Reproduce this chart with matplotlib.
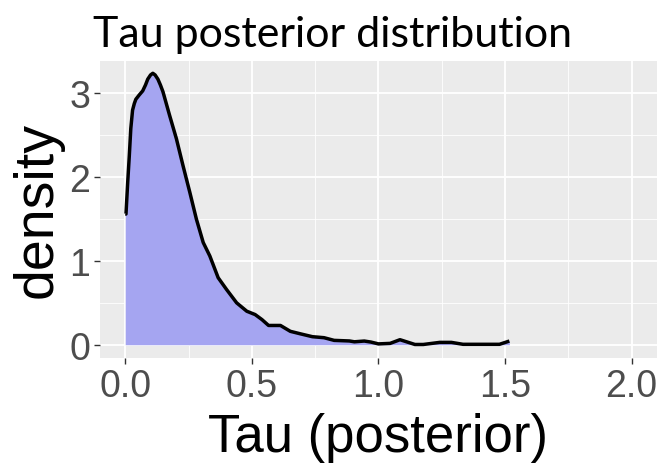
import matplotlib
matplotlib.use("Agg")
import matplotlib.pyplot as plt
import numpy as np

# density curve (tau, density)
tau = [0.0, 0.003, 0.010, 0.016, 0.022, 0.029, 0.036, 0.042, 0.055, 0.069,
       0.080, 0.089, 0.100, 0.109, 0.118, 0.129, 0.139, 0.149,
       0.175, 0.202, 0.228, 0.255, 0.281, 0.308, 0.334, 0.367, 0.40, 0.44,
       0.48, 0.513, 0.54, 0.566, 0.613, 0.652, 0.692, 0.739, 0.785, 0.825,
       0.885, 0.905, 0.944, 0.97, 1.0, 1.046, 1.085, 1.144, 1.177, 1.242,
       1.288, 1.334, 1.478, 1.517]
density = [1.56, 1.56, 1.95, 2.25, 2.58, 2.80, 2.88, 2.93, 2.98, 3.03,
           3.10, 3.17, 3.22, 3.24, 3.22, 3.17, 3.10, 3.02,
           2.74, 2.46, 2.14, 1.82, 1.50, 1.22, 1.06, 0.80, 0.66, 0.50,
           0.40, 0.36, 0.30, 0.23, 0.23, 0.16, 0.13, 0.096, 0.084, 0.052,
           0.045, 0.035, 0.044, 0.032, 0.010, 0.016, 0.060, 0.003, 0.003, 0.028,
           0.028, 0.005, 0.005, 0.044]
x_ticks = [0.0, 0.5, 1.0, 1.5, 2.0]
y_ticks = [0, 1, 2, 3]

title = "Tau posterior distribution"
x_label = "Tau (posterior)"
y_label = "density"

plt.rcParams["font.family"] = ["Liberation Sans", "DejaVu Sans"]

fig = plt.figure(figsize=(6.66, 4.64), dpi=100)
ax = fig.add_axes([0.150, 0.226, 0.8365, 0.641])

panel_bg = "#EBEBEB"
ax.set_facecolor(panel_bg)
for s in ax.spines.values():
    s.set_visible(False)

ax.set_xlim(-0.1, 2.1)
ax.set_ylim(-0.16, 3.39)

# ggplot-style grid
ax.set_xticks(x_ticks)
ax.set_yticks(y_ticks)
ax.set_xticks([0.25, 0.75, 1.25, 1.75], minor=True)
ax.set_yticks([0.5, 1.5, 2.5], minor=True)
ax.grid(True, which="major", color="white", linewidth=1.3)
ax.grid(True, which="minor", color="white", linewidth=0.6)
ax.set_axisbelow(True)
ax.tick_params(which="minor", length=0)
ax.tick_params(which="major", length=4, width=1.0, color="#333333",
               labelsize=27, labelcolor="#4D4D4D", pad=3)
ax.set_xticklabels([f"{v:.1f}" for v in x_ticks])
ax.set_yticklabels([str(v) for v in y_ticks])

t = np.array(tau)
d = np.array(density)
ax.fill_between(t, 0, d, color="#A5A5F1", linewidth=0, zorder=2)
ax.plot(t, d, color="black", linewidth=2.5, zorder=3,
        solid_joinstyle="round", solid_capstyle="butt")

ax.set_xlabel(x_label, fontsize=38, labelpad=6)
ax.set_ylabel(y_label, fontsize=40, labelpad=4)

fig.text(0.139, 0.899, title, fontsize=31, family=["Lato", "DejaVu Sans"],
         ha="left", va="baseline")

fig.savefig("out.png", dpi=100)
